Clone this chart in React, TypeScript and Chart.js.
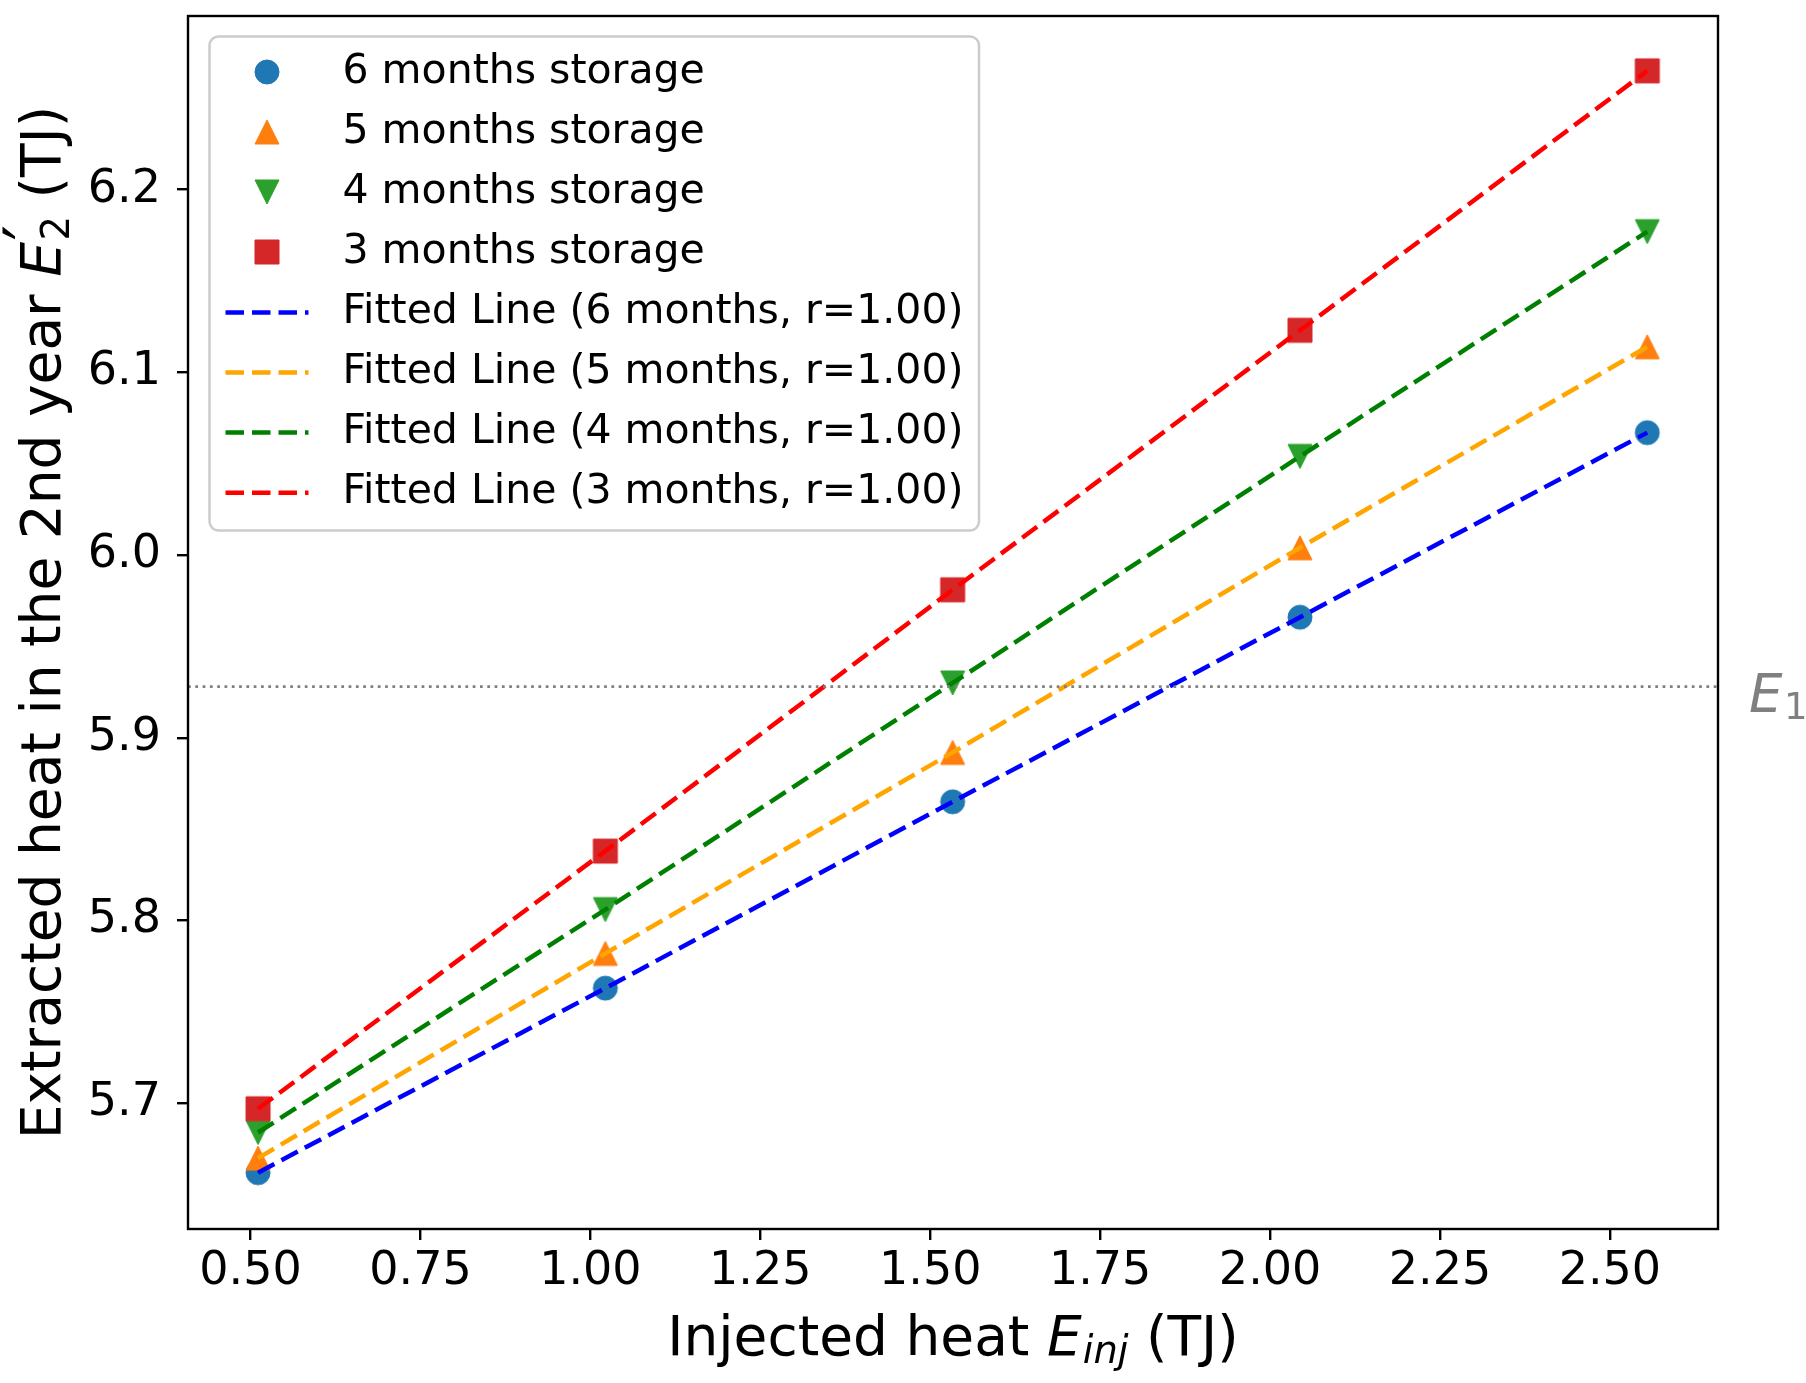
import React, { useEffect, useRef } from "react";
import { Chart, registerables } from "chart.js";

Chart.register(...registerables);

// ---------------- data ----------------
const xValues = [0.511, 1.022, 1.533, 2.044, 2.555];
const storage6 = [5.662, 5.763, 5.865, 5.966, 6.067];
const storage5 = [5.67, 5.782, 5.892, 6.004, 6.114];
const storage4 = [5.684, 5.806, 5.93, 6.054, 6.177];
const storage3 = [5.697, 5.838, 5.981, 6.123, 6.265];

const seriesNames = [
  "6 months storage",
  "5 months storage",
  "4 months storage",
  "3 months storage",
];
const fitNames = [
  "Fitted Line (6 months, r=1.00)",
  "Fitted Line (5 months, r=1.00)",
  "Fitted Line (4 months, r=1.00)",
  "Fitted Line (3 months, r=1.00)",
];
const markerColors = ["#1f77b4", "#ff7f0e", "#2ca02c", "#d62728"];
const lineColors = ["#0000ff", "#ffa500", "#008000", "#ff0000"];
const markerShapes = ["circle", "triangleUp", "triangleDown", "square"];

const xTicks = [0.5, 0.75, 1.0, 1.25, 1.5, 1.75, 2.0, 2.25, 2.5];
const yTicks = [5.7, 5.8, 5.9, 6.0, 6.1, 6.2];
const e1Value = 5.928;
const xLimits = [0.408, 2.659];
const yLimits = [5.6312, 6.295];

const FONT = "DejaVu Sans";

// ---------------- helpers ----------------
function makeMarker(shape: string, color: string, size: number) {
  const pad = 2;
  const c = document.createElement("canvas");
  c.width = size + pad * 2;
  c.height = size + pad * 2;
  const g = c.getContext("2d")!;
  const cx = c.width / 2;
  const cy = c.height / 2;
  const h = size / 2;
  g.fillStyle = color;
  g.strokeStyle = color;
  g.lineWidth = 1;
  g.beginPath();
  if (shape === "circle") {
    g.arc(cx, cy, h, 0, Math.PI * 2);
  } else if (shape === "square") {
    g.rect(cx - h, cy - h, size, size);
  } else if (shape === "triangleUp") {
    g.moveTo(cx, cy - h);
    g.lineTo(cx + h, cy + h);
    g.lineTo(cx - h, cy + h);
    g.closePath();
  } else {
    g.moveTo(cx - h, cy - h);
    g.lineTo(cx + h, cy - h);
    g.lineTo(cx, cy + h);
    g.closePath();
  }
  g.fill();
  g.stroke();
  return c;
}

type Part = { t: string; it?: boolean; s?: number; dy?: number; adv?: boolean; kern?: number };

function fontOf(size: number, it?: boolean) {
  return `${it ? "italic " : ""}${size}px "${FONT}"`;
}

function partsWidth(ctx: CanvasRenderingContext2D, parts: Part[], size: number) {
  let w = 0;
  for (const p of parts) {
    ctx.font = fontOf(size * (p.s || 1), p.it);
    if (p.adv !== false) w += ctx.measureText(p.t).width;
    w += (p.kern || 0) * size;
  }
  return w;
}

function drawParts(ctx: CanvasRenderingContext2D, parts: Part[], x: number, y: number, size: number) {
  let cx = x;
  ctx.textAlign = "left";
  ctx.textBaseline = "alphabetic";
  for (const p of parts) {
    ctx.font = fontOf(size * (p.s || 1), p.it);
    ctx.fillText(p.t, cx, y + (p.dy || 0) * size);
    if (p.adv !== false) cx += ctx.measureText(p.t).width;
    cx += (p.kern || 0) * size;
  }
}

function roundRect(ctx: CanvasRenderingContext2D, x: number, y: number, w: number, h: number, r: number) {
  ctx.beginPath();
  ctx.moveTo(x + r, y);
  ctx.lineTo(x + w - r, y);
  ctx.arcTo(x + w, y, x + w, y + r, r);
  ctx.lineTo(x + w, y + h - r);
  ctx.arcTo(x + w, y + h, x + w - r, y + h, r);
  ctx.lineTo(x + r, y + h);
  ctx.arcTo(x, y + h, x, y + h - r, r);
  ctx.lineTo(x, y + r);
  ctx.arcTo(x, y, x + r, y, r);
  ctx.closePath();
}

const xTitle: Part[] = [
  { t: "Injected heat " },
  { t: "E", it: true, kern: 0.02 },
  { t: "inj", it: true, s: 0.7, dy: 0.14 },
  { t: " (TJ)" },
];
const yTitle: Part[] = [
  { t: "Extracted heat in the 2nd year " },
  { t: "E", it: true, kern: 0.03 },
  { t: "\u2032", s: 1.25, dy: -0.12, adv: false, kern: 0 },
  { t: "2", s: 0.7, dy: 0.16 },
  { t: " (TJ)" },
];
const e1Label: Part[] = [
  { t: "E", it: true, kern: 0.03 },
  { t: "1", s: 0.7, dy: 0.13 },
];

const decorPlugin = {
  id: "decor",
  afterDraw(chart: any) {
    const ctx: CanvasRenderingContext2D = chart.ctx;
    const a = chart.chartArea;
    ctx.save();

    // axes frame
    ctx.strokeStyle = "#000";
    ctx.lineWidth = 2.4;
    ctx.setLineDash([]);
    ctx.strokeRect(a.left, a.top, a.right - a.left, a.bottom - a.top);

    // axis titles
    const titleSize = 55;
    ctx.fillStyle = "#000";
    const xw = partsWidth(ctx, xTitle, titleSize);
    drawParts(ctx, xTitle, (a.left + a.right) / 2 - xw / 2, 1355, titleSize);

    const yw = partsWidth(ctx, yTitle, titleSize);
    ctx.save();
    ctx.translate(60, (a.top + a.bottom) / 2);
    ctx.rotate(-Math.PI / 2);
    drawParts(ctx, yTitle, -yw / 2, 0, titleSize);
    ctx.restore();

    // E1 label
    const yPix = chart.scales.y.getPixelForValue(e1Value);
    ctx.fillStyle = "#808080";
    drawParts(ctx, e1Label, a.right + 31, yPix + 25, 53);

    // legend
    const lx = a.left + 21.5;
    const ly = a.top + 20.5;
    const lw = 769.5;
    const lh = 494;
    roundRect(ctx, lx, ly, lw, lh, 9);
    ctx.fillStyle = "rgba(255,255,255,0.8)";
    ctx.fill();
    ctx.strokeStyle = "#cccccc";
    ctx.lineWidth = 2.5;
    ctx.stroke();

    const rowGap = 60.1;
    const row0 = ly + 35.5;
    const handleX0 = lx + 16;
    const handleX1 = lx + 99;
    const markerX = (handleX0 + handleX1) / 2;
    const textX = lx + 133;
    const items = chart.data.datasets.filter((d: any) => d.legendKind);
    items.forEach((ds: any, i: number) => {
      const y = row0 + i * rowGap;
      if (ds.legendKind === "marker") {
        const img = ds.pointStyle as HTMLCanvasElement;
        ctx.drawImage(img, Math.round(markerX - img.width / 2), Math.round(y - img.height / 2));
      } else {
        ctx.beginPath();
        ctx.strokeStyle = ds.borderColor;
        ctx.lineWidth = ds.borderWidth;
        ctx.setLineDash(ds.borderDash);
        ctx.moveTo(handleX0, y);
        ctx.lineTo(handleX1, y);
        ctx.stroke();
        ctx.setLineDash([]);
      }
      ctx.fillStyle = "#000";
      ctx.font = fontOf(41);
      ctx.textAlign = "left";
      ctx.textBaseline = "middle";
      ctx.fillText(ds.label, textX, y);
    });

    ctx.restore();
  },
};

export default function App() {
  const ref = useRef<HTMLCanvasElement>(null);

  useEffect(() => {
    document.body.style.margin = "0";
    const canvas = ref.current!;
    const series = [storage6, storage5, storage4, storage3];
    const toPts = (ys: number[]) => xValues.map((x, i) => ({ x, y: ys[i] }));
    const markerImgs = markerShapes.map((s, i) => makeMarker(s, markerColors[i], 24));

    const scatterSets = series.map((ys, i) => ({
      label: seriesNames[i],
      legendKind: "marker",
      data: toPts(ys),
      showLine: false,
      pointStyle: markerImgs[i],
      pointRadius: 12,
      pointHoverRadius: 12,
      backgroundColor: markerColors[i],
      borderColor: markerColors[i],
      order: 10 - i,
    }));
    const fitSets = series.map((ys, i) => ({
      label: fitNames[i],
      legendKind: "line",
      data: toPts(ys),
      showLine: true,
      pointRadius: 0,
      pointHoverRadius: 0,
      borderColor: lineColors[i],
      backgroundColor: lineColors[i],
      borderWidth: 4.5,
      borderDash: [18.5, 8],
      fill: false,
      tension: 0,
      order: 5 - i,
    }));
    const e1Set = {
      label: "E1",
      data: [
        { x: xLimits[0], y: e1Value },
        { x: xLimits[1], y: e1Value },
      ],
      showLine: true,
      pointRadius: 0,
      pointHoverRadius: 0,
      borderColor: "#808080",
      backgroundColor: "#808080",
      borderWidth: 2.75,
      borderDash: [2.75, 4.55],
      fill: false,
      order: 1,
    };

    const tickFont = { family: FONT, size: 46 };

    const chart = new Chart(canvas, {
      type: "scatter",
      data: { datasets: [...scatterSets, ...fitSets, e1Set] as any },
      options: {
        responsive: false,
        maintainAspectRatio: false,
        devicePixelRatio: 1,
        animation: false,
        events: [],
        layout: { autoPadding: false, padding: { left: 0, right: 88, top: 16, bottom: 0 } },
        plugins: {
          legend: { display: false },
          tooltip: { enabled: false },
        },
        scales: {
          x: {
            type: "linear",
            min: xLimits[0],
            max: xLimits[1],
            afterBuildTicks: (s: any) => {
              s.ticks = xTicks.map((v) => ({ value: v }));
            },
            afterFit: (s: any) => {
              s.height = 154;
              s.paddingLeft = 0;
              s.paddingRight = 0;
              s.paddingTop = 0;
              s.paddingBottom = 0;
            },
            ticks: {
              callback: (v: any) => Number(v).toFixed(2),
              font: tickFont,
              color: "#000",
              padding: 4,
              maxRotation: 0,
              minRotation: 0,
              autoSkip: false,
            },
            grid: {
              display: true,
              drawOnChartArea: false,
              drawTicks: true,
              tickLength: 11,
              color: "#000",
              lineWidth: 2.4,
            },
            border: { display: false },
          },
          y: {
            type: "linear",
            min: yLimits[0],
            max: yLimits[1],
            afterBuildTicks: (s: any) => {
              s.ticks = yTicks.map((v) => ({ value: v }));
            },
            afterFit: (s: any) => {
              s.width = 188;
              s.paddingLeft = 0;
              s.paddingRight = 0;
              s.paddingTop = 0;
              s.paddingBottom = 0;
            },
            ticks: {
              callback: (v: any) => Number(v).toFixed(1),
              font: tickFont,
              color: "#000",
              padding: 16,
              autoSkip: false,
            },
            grid: {
              display: true,
              drawOnChartArea: false,
              drawTicks: true,
              tickLength: 11,
              color: "#000",
              lineWidth: 2.4,
            },
            border: { display: false },
          },
        },
      } as any,
      plugins: [decorPlugin],
    });

    return () => chart.destroy();
  }, []);

  return (
    <canvas
      ref={ref}
      width={1806}
      height={1383}
      style={{ display: "block", width: "1806px", height: "1383px" }}
    />
  );
}
